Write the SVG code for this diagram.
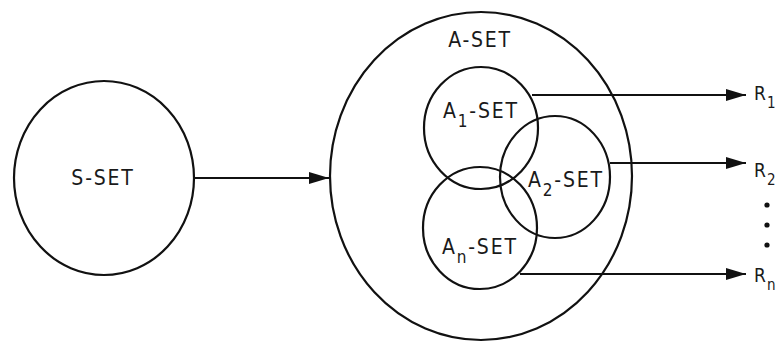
<svg xmlns="http://www.w3.org/2000/svg" width="780" height="343" viewBox="0 0 780 343">
<defs>
<style>
.c{fill:none;stroke:#111;stroke-width:2.2}
.l{stroke:#111;stroke-width:2.2;fill:none}
.t{font-family:"DejaVu Sans Condensed","Liberation Sans",sans-serif;font-size:21px;fill:#1a1a1a;letter-spacing:1.8px}
.s{font-size:17px}
.r{font-size:19px;letter-spacing:1px}
.rs{font-size:15px}
</style>
<marker id="ah" viewBox="0 0 20 12" refX="20" refY="6" markerWidth="20" markerHeight="12" markerUnits="userSpaceOnUse" orient="auto">
<path d="M0,0 L20,6 L0,12 Z" fill="#111"/>
</marker>
</defs>
<rect width="780" height="343" fill="#fff"/>
<g id="s-set">
<ellipse class="c" cx="104" cy="178" rx="90" ry="97"/>
<text class="t" x="103" y="185" text-anchor="middle">S-SET</text>
</g>
<g id="a-set">
<ellipse class="c" cx="481" cy="176" rx="151" ry="164"/>
<text class="t" x="480" y="47" text-anchor="middle">A-SET</text>
</g>
<g id="a1-set">
<ellipse class="c" cx="481" cy="128" rx="57" ry="61"/>
<text class="t" x="443" y="118">A<tspan class="s" dy="9">1</tspan><tspan dy="-9">-SET</tspan></text>
</g>
<g id="a2-set">
<ellipse class="c" cx="555" cy="177" rx="55" ry="61"/>
<text class="t" x="528" y="187">A<tspan class="s" dy="9">2</tspan><tspan dy="-9">-SET</tspan></text>
</g>
<g id="an-set">
<ellipse class="c" cx="480" cy="228" rx="57" ry="61"/>
<text class="t" x="442" y="254">A<tspan class="s" dy="9">n</tspan><tspan dy="-9">-SET</tspan></text>
</g>
<g id="connectors">
<line class="l" x1="194" y1="178" x2="329" y2="178" marker-end="url(#ah)"/>
<line class="l" x1="532" y1="95" x2="746" y2="95" marker-end="url(#ah)"/>
<line class="l" x1="610" y1="163" x2="746" y2="163" marker-end="url(#ah)"/>
<line class="l" x1="520" y1="274" x2="746" y2="274" marker-end="url(#ah)"/>
</g>
<g id="r1"><text class="t r" x="754" y="100">R<tspan class="rs" dy="8">1</tspan></text></g>
<g id="r2"><text class="t r" x="754" y="177">R<tspan class="rs" dy="8">2</tspan></text></g>
<g id="rn"><text class="t r" x="754" y="282">R<tspan class="rs" dy="8">n</tspan></text></g>
<g id="dots" fill="#111">
<circle cx="767" cy="205" r="2.6"/>
<circle cx="767" cy="225" r="2.6"/>
<circle cx="767" cy="245" r="2.6"/>
</g>
</svg>
